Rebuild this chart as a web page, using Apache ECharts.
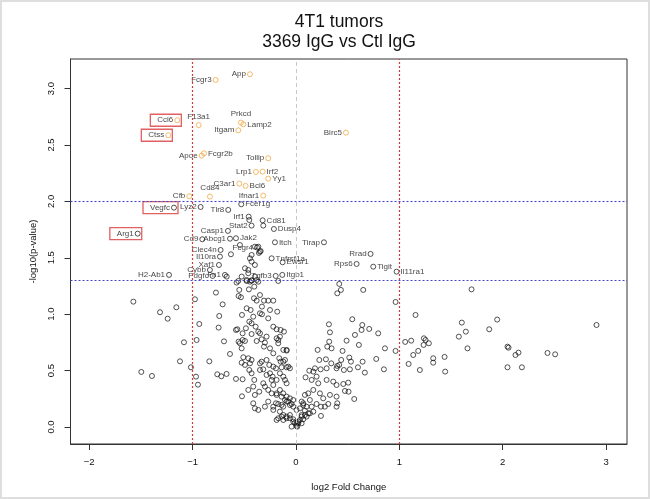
<!DOCTYPE html>
<html><head><meta charset="utf-8">
<script src="https://cdn.jsdelivr.net/npm/echarts@6/dist/echarts.min.js"></script>
<style>html,body{margin:0;padding:0;background:#fff}#c{width:650px;height:499px}</style>
</head><body><div id="c"></div>
<script>
// ---- labelled genes ----
const genes = ['App','Fcgr3','Ccl6','F13a1','Prkcd','Lamp2','Itgam','Ctss','Birc5','Apoe','Fcgr2b','Tollip','Lrp1','Irf2','Yy1','C3ar1','Bcl6','Ifnar1','Cd84','Cfb',
  'Vegfc','Lyz2','Tlr8','Fcer1g','Irf1','Stat2','Cd81','Dusp4','Casp1','Cd9','Abcg1','Jak2','Arg1','Itch','Tirap','Fcgr4','Clec4n','Il10ra','Tnfrsf1a','Ewsr1','Xaf1','Rrad','Rps6','Tigit','Il11ra1','Cybb','Fn1','Pdgfc','Tgfb3','Itgb1','H2-Ab1'];
const geneFC = [-0.445,-0.777,-1.148,-0.941,-0.532,-0.509,-0.558,-1.235,0.484,-0.912,-0.890,-0.268,-0.387,-0.322,-0.268,-0.548,-0.487,-0.316,-0.832,-1.032,
  -1.180,-0.922,-0.655,-0.529,-0.457,-0.429,-0.322,-0.213,-0.658,-0.906,-0.638,-0.580,-1.531,-0.203,0.271,-0.377,-0.729,-0.735,-0.235,-0.129,-0.745,0.722,0.587,0.748,0.974,-0.832,-0.687,-0.806,-0.196,-0.132,-1.228];
const geneP = [3.127,3.076,2.719,2.675,2.698,2.683,2.630,2.586,2.609,2.405,2.426,2.382,2.261,2.264,2.201,2.157,2.137,2.051,2.042,2.045,
  1.944,1.950,1.924,1.974,1.864,1.785,1.832,1.755,1.738,1.664,1.669,1.673,1.714,1.637,1.637,1.591,1.569,1.510,1.495,1.460,1.436,1.534,1.445,1.421,1.377,1.392,1.348,1.339,1.339,1.348,1.348];
const boxed = ['Ccl6','Ctss','Vegfc','Arg1'];

// ---- other genes (unlabelled) ----
const bgFC = [-1.573,-1.315,-1.241,-1.157,-1.083,-1.122,-1.496,-1.393,-1.016,-0.977,-0.935,-0.961,-0.967,-0.948,-0.774,-0.709,-0.742,-0.748,-0.696,-0.638,-0.838,-0.761,-0.722,-0.671,-0.580,-0.516,-0.522,
  -0.574,-0.477,-0.429,-0.364,-0.171,-0.548,-0.455,-0.403,-0.555,-0.532,-0.348,-0.406,-0.380,-0.309,-0.268,-0.219,-0.329,-0.251,-0.181,-0.477,-0.438,-0.522,-0.348,-0.329,-0.413,-0.268,
  -0.567,-0.580,-0.484,-0.429,-0.451,-0.390,-0.364,-0.348,-0.219,-0.187,-0.148,-0.116,-0.516,-0.429,-0.555,-0.516,-0.493,-0.542,-0.525,-0.380,-0.332,-0.300,-0.187,-0.171,-0.155,
  -0.309,-0.251,-0.219,-0.090,-0.171,-0.284,-0.509,-0.461,-0.429,-0.525,-0.493,-0.445,-0.348,-0.332,-0.284,-0.258,-0.161,-0.148,-0.106,-0.219,-0.193,-0.451,-0.429,-0.403,-0.348,
  -0.316,-0.284,-0.251,-0.226,-0.187,-0.155,-0.139,-0.090,-0.235,-0.461,-0.413,-0.397,-0.355,-0.316,-0.300,-0.268,-0.235,-0.219,-0.187,-0.155,-0.123,-0.090,-0.413,-0.397,-0.364,
  -0.300,-0.268,-0.219,-0.193,-0.171,-0.139,-0.123,-0.090,-0.187,-0.139,-0.090,
  -0.058,-0.026,-0.058,-0.026,0.006,-0.058,-0.026,-0.010,0.006,0.023,0.039,0.013,0.055,0.087,0.119,0.039,0.071,0.103,
  -0.122,-0.090,-0.058,-0.026,-0.042,-0.171,-0.122,-0.155,-0.219,-0.074,-0.106,-0.042,-0.139,-0.187,-0.090,-0.106,-0.122,-0.074,-0.058,-0.122,-0.090,-0.122,
  0.419,0.435,0.400,0.651,0.964,1.699,0.545,0.319,0.329,0.642,0.635,0.709,0.796,0.571,0.490,0.609,0.322,0.345,0.303,0.210,0.451,0.861,0.964,1.057,1.115,1.157,1.238,1.254,1.286,
  1.235,1.183,1.135,1.090,1.199,1.328,1.328,1.438,1.444,1.576,1.605,1.644,1.660,1.870,1.947,2.047,2.057,2.124,2.153,2.047,2.186,2.434,2.508,2.908,
  0.226,0.290,0.342,0.393,0.400,0.419,0.438,0.516,0.532,0.645,0.522,0.464,0.600,0.667,0.777,0.851,0.297,0.239,0.184,0.168,0.129,0.200,0.093,0.152,0.216,0.297,0.361,0.393,0.458,
  0.506,0.474,0.509,0.393,0.329,0.264,0.232,0.168,0.119,0.087,0.135,0.200,0.242,0.280,0.313,0.393,0.400,0.564,0.055,0.071,0.087,0.055,0.103,0.135,0.152,0.168,0.242,0.023,0.006,
  0.055,0.071,
  -0.451,-0.316,-0.348,-0.364,-0.397,-0.429,-0.445,-0.397,-0.461,-0.380,-0.430,-0.629,-0.542,-0.429,-0.493,-0.461,-0.525,-0.558,-0.477,-0.445,-0.397,-0.670,-0.341,-0.358];
const bgP = [1.111,1.017,0.960,1.061,0.751,0.582,0.488,0.452,0.529,1.132,0.913,0.771,0.446,0.375,1.191,1.087,0.984,0.881,0.759,0.647,0.582,0.467,0.449,0.470,0.426,0.423,0.272,
  1.280,1.294,1.297,1.288,1.294,1.215,1.220,1.244,1.161,1.150,1.170,1.141,1.120,1.120,1.120,1.120,1.067,1.037,1.022,1.052,1.037,0.993,1.008,0.999,0.978,0.963,
  0.866,0.860,0.875,0.919,0.934,0.889,0.845,0.830,0.889,0.866,0.860,0.845,0.830,0.824,0.756,0.771,0.762,0.742,0.697,0.762,0.777,0.748,0.786,0.771,0.801,
  0.712,0.697,0.653,0.677,0.742,0.801,0.618,0.609,0.594,0.570,0.550,0.564,0.564,0.579,0.594,0.550,0.609,0.579,0.594,0.535,0.520,0.505,0.476,0.417,0.505,
  0.511,0.461,0.476,0.446,0.417,0.476,0.529,0.529,0.417,0.328,0.358,0.284,0.313,0.387,0.358,0.328,0.298,0.372,0.284,0.328,0.298,0.269,0.210,0.165,0.151,
  0.180,0.225,0.180,0.210,0.204,0.195,0.180,0.225,0.062,0.092,0.077,
  0.254,0.239,0.195,0.180,0.151,0.106,0.068,0.038,0.027,0.047,0.062,0.003,0.092,0.106,0.121,0.165,0.210,0.180,
  0.062,0.092,0.077,0.047,0.003,0.077,0.106,0.136,0.151,0.225,0.239,0.204,0.269,0.298,0.387,0.417,0.446,0.535,0.520,0.579,0.683,0.683,
  1.268,1.215,1.185,1.215,1.108,1.220,0.955,0.910,0.839,0.904,0.860,0.869,0.830,0.816,0.765,0.727,0.756,0.697,0.712,0.683,0.674,0.697,0.674,0.754,0.765,0.993,0.786,0.771,0.742,
  0.727,0.674,0.638,0.559,0.505,0.609,0.570,0.621,0.491,0.801,0.925,0.845,0.697,0.866,0.952,0.712,0.703,0.638,0.659,0.529,0.529,0.656,0.644,0.904,
  0.594,0.600,0.564,0.520,0.541,0.550,0.594,0.615,0.579,0.579,0.511,0.505,0.529,0.482,0.603,0.511,0.520,0.511,0.520,0.491,0.499,0.446,0.440,0.417,0.387,0.417,0.402,0.372,0.381,
  0.393,0.319,0.313,0.269,0.284,0.254,0.298,0.328,0.298,0.284,0.239,0.204,0.180,0.180,0.204,0.180,0.210,0.248,0.225,0.195,0.145,0.106,0.092,0.121,0.180,0.136,0.098,0.033,0.009,
  0.033,0.068,
  1.835,1.785,1.554,1.598,1.598,1.525,1.495,1.436,1.363,1.303,1.300,1.531,1.613,1.466,1.407,1.392,1.333,1.294,1.303,1.288,1.333,1.333,1.560,1.543];

// ---- axes / guides ----
const xTicks = [-2, -1, 0, 1, 2, 3];
const yTicks = [0, 0.5, 1, 1.5, 2, 2.5, 3];
const fcCut = [-1, 1];
const pCut = [1.30103, 2];
const sigLevel = 2;

// label placement style: [position, dx, dy]
const labelLayout = {
  F13a1:['top',0,3], Prkcd:['top',-6,1.5], Lamp2:['right',0,0], Fcgr2b:['right',0,-4], Irf2:['right',0,0], Yy1:['right',0,2],
  Bcl6:['right',0,0], Cd84:['top',-6,2], Fcer1g:['right',0,0], Cd81:['right',-2,0], Dusp4:['right',0,0], Jak2:['right',0,0],
  Itch:['right',0,0], Tnfrsf1a:['right',0,-4], Ewsr1:['right',0,0], Rrad:['left',0,-4], Tigit:['right',0,0], Il11ra1:['right',0,0],
  Fn1:['left',3,-4], Tgfb3:['left',0,-4], Itgb1:['right',0,0]
};

const ORANGE = '#EFA132', BLACK = '#111', RED = '#D9383A', BLUE = '#4848C4';
const FONT = '"Liberation Sans", Arial, sans-serif';

const bgData = bgFC.map((v, i) => [v, bgP[i]]);
const geneData = genes.map((g, i) => {
  const lay = labelLayout[g] || ['left', 0, 0];
  const isBox = boxed.includes(g);
  const col = geneP[i] > sigLevel ? ORANGE : BLACK;
  const label = {
    show: true, formatter: g, position: lay[0], distance: 1, offset: [lay[1], lay[2]],
    fontSize: 8, fontFamily: FONT, color: '#111', lineHeight: 9
  };
  if (isBox) {
    Object.assign(label, {distance: -7, padding: [1.5, 8, 1.5, 7], borderColor: RED, borderWidth: 1.3});
  }
  return {value: [geneFC[i], geneP[i]], itemStyle: {borderColor: col}, label};
});

const chart = echarts.init(document.getElementById('c'), null, {renderer: 'canvas'});
chart.setOption({
  animation: false,
  backgroundColor: '#fff',
  title: {
    text: '4T1 tumors\n3369 IgG vs Ctl IgG', left: 334, top: 7, textAlign: 'center',
    textStyle: {fontFamily: FONT, fontSize: 17.5, fontWeight: 'normal', color: '#111', lineHeight: 20}
  },
  graphic: [{type: 'rect', shape: {x: 1, y: 1, width: 648, height: 497}, style: {fill: 'none', stroke: '#dedede', lineWidth: 2}, silent: true}],
  grid: {left: 70.5, right: 23, top: 59, bottom: 55, show: true, borderColor: '#333', borderWidth: 1, backgroundColor: 'transparent'},
  xAxis: {
    type: 'value', min: -2.181, max: 3.203,
    name: 'log2 Fold Change', nameLocation: 'middle', nameGap: 38,
    nameTextStyle: {fontFamily: FONT, fontSize: 9.5, color: '#111'},
    axisLine: {show: true, onZero: false, lineStyle: {color: '#333', width: 1}}, splitLine: {show: false},
    axisTick: {show: true, inside: false, customValues: xTicks, length: 6, lineStyle: {color: '#333', width: 1}},
    axisLabel: {customValues: xTicks, margin: 13, fontFamily: FONT, fontSize: 9.5, color: '#111',
      formatter: v => (v < 0 ? '\u2212' + Math.abs(v) : String(v))}
  },
  yAxis: {
    type: 'value', min: -0.151, max: 3.262,
    name: '-log10(p-value)', nameLocation: 'middle', nameGap: 28,
    nameTextStyle: {fontFamily: FONT, fontSize: 9.5, color: '#111'},
    axisLine: {show: true, onZero: false, lineStyle: {color: '#333', width: 1}}, splitLine: {show: false},
    axisTick: {show: true, inside: false, customValues: yTicks, length: 6, lineStyle: {color: '#333', width: 1}},
    axisLabel: {customValues: yTicks, rotate: 90, margin: 14, fontFamily: FONT, fontSize: 9.5, color: '#111',
      formatter: v => v.toFixed(1)}
  },
  series: [
    {
      type: 'scatter', data: bgData, symbol: 'circle', symbolSize: 5, silent: true,
      itemStyle: {color: 'rgba(0,0,0,0)', borderColor: BLACK, borderWidth: 0.9},
      markLine: {
        silent: true, symbol: 'none', label: {show: false}, animation: false,
        data: [
          {xAxis: 0, lineStyle: {color: '#c8c8c8', type: [4, 3], width: 1}},
          ...fcCut.map(v => ({xAxis: v, lineStyle: {color: RED, type: [2, 2], width: 1.2}})),
          ...pCut.map(v => ({yAxis: v, lineStyle: {color: BLUE, type: [2, 2], width: 1.1}}))
        ]
      },
      z: 2
    },
    {
      type: 'scatter', data: geneData, symbol: 'circle', symbolSize: 5, silent: true,
      itemStyle: {color: 'rgba(0,0,0,0)', borderWidth: 0.9},
      labelLayout: {hideOverlap: false}, z: 3
    }
  ]
});
</script></body></html>
